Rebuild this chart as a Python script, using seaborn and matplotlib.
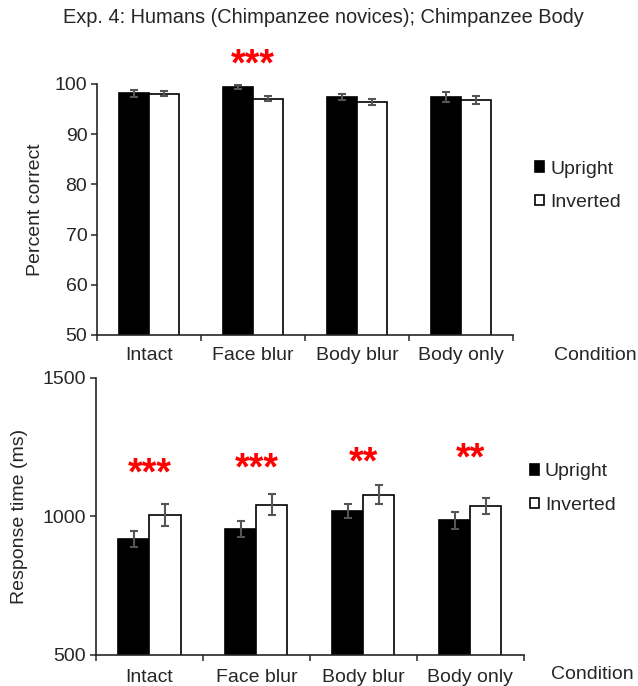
import numpy as np
import pandas as pd
import seaborn as sns
import matplotlib as mpl
import matplotlib.pyplot as plt

mpl.use('Agg')

# data
conditions = ['Intact', 'Face blur', 'Body blur', 'Body only']
orientations = ['Upright', 'Inverted']

acc_upright = [98.1, 99.4, 97.4, 97.4]
acc_inverted = [98.0, 97.0, 96.3, 96.7]
acc_upright_err = [0.65, 0.4, 0.65, 1.0]
acc_inverted_err = [0.5, 0.5, 0.6, 0.8]

rt_upright = [919, 955, 1020, 986]
rt_inverted = [1006, 1043, 1079, 1037]
rt_upright_err = [30, 28, 25, 30]
rt_inverted_err = [40, 37, 34, 30]

acc_stars = ['', '***', '', '']
acc_star_y = [None, 103.7, None, None]
rt_stars = ['***', '***', '**', '**']
rt_star_y = [1152, 1170, 1192, 1206]

sns.set_style('ticks')
plt.rcParams['font.family'] = ['Liberation Sans', 'DejaVu Sans']
plt.rcParams['font.size'] = 14


def make_df(up, inv, up_err, inv_err):
    rows = []
    for i, c in enumerate(conditions):
        rows.append({'Condition': c, 'Orientation': 'Upright', 'value': up[i], 'err': up_err[i]})
        rows.append({'Condition': c, 'Orientation': 'Inverted', 'value': inv[i], 'err': inv_err[i]})
    return pd.DataFrame(rows)


def draw_panel(ax, df, ylim, yticks, ylabel, label_x, stars, star_y, tick_pad):
    sns.barplot(data=df, x='Condition', y='value', hue='Orientation', order=conditions,
                hue_order=orientations, palette={'Upright': 'black', 'Inverted': 'white'},
                edgecolor='black', linewidth=1.2, width=0.58, gap=0, errorbar=None, ax=ax)
    # error bars at the bar centres
    for p in ax.patches:
        w = p.get_width()
        if w <= 0:
            continue
        xc = p.get_x() + w / 2
        ci = int(round(xc))
        hue = 'Upright' if xc < ci else 'Inverted'
        row = df[(df['Condition'] == conditions[ci]) & (df['Orientation'] == hue)].iloc[0]
        ax.errorbar(xc, row['value'], yerr=row['err'], color='#555555', elinewidth=1.5,
                    capsize=3, capthick=1.5, zorder=5)
    for i, s in enumerate(stars):
        if s:
            ax.text(i, star_y[i], s, color='red', fontsize=27, fontweight='bold',
                    ha='center', va='center', clip_on=False)
    ax.set_ylim(*ylim)
    ax.set_yticks(yticks)
    ax.set_xlim(-0.5, 3.5)
    ax.set_xticks(np.arange(-0.5, 4, 1), minor=True)
    ax.tick_params(axis='x', which='major', length=0, pad=tick_pad, labelsize=14)
    ax.tick_params(axis='x', which='minor', length=4, width=1.1, direction='out')
    ax.tick_params(axis='y', length=4, width=1.1, direction='out', pad=3, labelsize=14)
    for sp in ['left', 'bottom']:
        ax.spines[sp].set_linewidth(1.2)
    sns.despine(ax=ax)
    ax.set_ylabel(ylabel, fontsize=14)
    ax.yaxis.set_label_coords(label_x, 0.5)
    ax.set_xlabel('Condition', fontsize=14)


fig = plt.figure(figsize=(6.38, 6.86), dpi=100)
ax1 = fig.add_axes([0.152, 0.5117, 0.652, 0.366])
ax2 = fig.add_axes([0.1505, 0.0452, 0.6705, 0.404])

draw_panel(ax1, make_df(acc_upright, acc_inverted, acc_upright_err, acc_inverted_err),
           (50, 100), [50, 60, 70, 80, 90, 100], 'Percent correct', -0.127,
           acc_stars, acc_star_y, 9)
ax1.xaxis.set_label_coords(1.197, -0.08)
ax1.xaxis.label.set_va('center')

draw_panel(ax2, make_df(rt_upright, rt_inverted, rt_upright_err, rt_inverted_err),
           (500, 1500), [500, 1000, 1500], 'Response time (ms)', -0.159,
           rt_stars, rt_star_y, 10)
ax2.xaxis.set_label_coords(1.16, -0.072)
ax2.xaxis.label.set_va('center')

leg_kw = dict(frameon=False, title=None, fontsize=14, handlelength=0.45, handleheight=0.45,
              handletextpad=0.3, labelspacing=0.85)
sns.move_legend(ax1, loc='center left', bbox_to_anchor=(1.012, 0.594), **leg_kw)
sns.move_legend(ax2, loc='center left', bbox_to_anchor=(0.974, 0.60), **leg_kw)

fig.text(0.507, 0.974, 'Exp. 4: Humans (Chimpanzee novices); Chimpanzee Body',
         ha='center', va='center', fontsize=14.4)

fig.savefig('out.png', dpi=100)
plt.close(fig)
